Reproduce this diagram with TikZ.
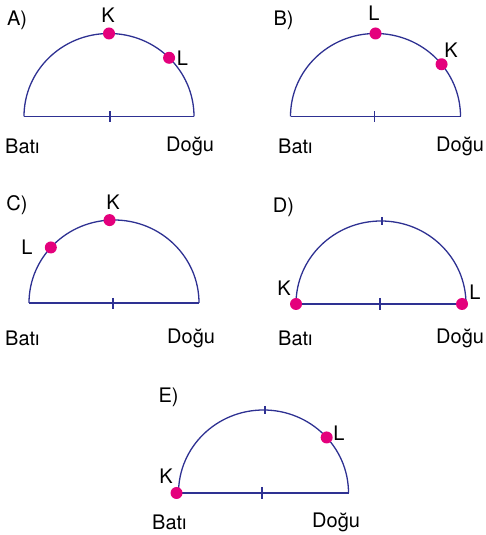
\documentclass[tikz,border=0pt]{standalone}
\usepackage{fontspec}
\setmainfont{TeX Gyre Heros}
\definecolor{arcblue}{HTML}{2E3192}
\definecolor{dotmag}{HTML}{E4007C}
\begin{document}
\begin{tikzpicture}[x=1pt,y=1pt,
  hemi/.style={draw=arcblue,line width=1.3pt},
  dotnode/.style={circle,fill=dotmag,inner sep=0pt,minimum size=12pt},
  lbl/.style={font=\fontsize{20}{22}\selectfont,inner sep=0pt},
  dirl/.style={font=\fontsize{20}{22}\selectfont,inner sep=0pt,anchor=west}]
\useasboundingbox (0,0) rectangle (486,535);
\def\rx{85}\def\ry{83}
% ---------- A ----------
\begin{scope}[shift={(109,418.5)}]
  \coordinate (aW) at (-\rx,0); \coordinate (aE) at (\rx,0);
  \draw[hemi] (aW) arc[start angle=180,end angle=0,x radius=\rx,y radius=\ry];
  \draw[hemi] (aW) -- (aE);
  \draw[hemi] (1,5) -- (1,-6);
  \node[dotnode] (aK) at (90:{\rx} and {\ry}) {};
  \node[dotnode] (aL) at (45:{\rx} and {\ry}) {};
  \node[lbl] at (-1,101) {K};
  \node[lbl] at (73.5,58) {L};
  \node[lbl] at (-92,96.5) {A)};
  \node[dirl] at (-104,-29.5) {Batı};
  \node[dirl] at (57,-29.5) {Doğu};
\end{scope}
% ---------- B ----------
\begin{scope}[shift={(375.5,418.5)}]
  \coordinate (bW) at (-\rx,0); \coordinate (bE) at (\rx,0);
  \draw[hemi] (bW) arc[start angle=180,end angle=0,x radius=\rx,y radius=\ry];
  \draw[hemi] (bW) -- (bE);
  \draw[hemi] (-1,5) -- (-1,-6);
  \node[dotnode] (bL) at (90:{\rx} and {\ry}) {};
  \node[dotnode] (bK) at (39:{\rx} and {\ry}) {};
  \node[lbl] at (-1.5,103.5) {L};
  \node[lbl] at (75.5,66.5) {K};
  \node[lbl] at (-92,96.5) {B)};
  \node[dirl] at (-97.5,-29.5) {Batı};
  \node[dirl] at (60.5,-29.5) {Doğu};
\end{scope}
% ---------- C ----------
\begin{scope}[shift={(114,232)}]
  \coordinate (cW) at (-\rx,0); \coordinate (cE) at (\rx,0);
  \draw[hemi] (cW) arc[start angle=180,end angle=0,x radius=\rx,y radius=\ry];
  \draw[hemi] (cW) -- (cE);
  \draw[hemi] (-1,5) -- (-1,-6);
  \node[dotnode] (cK) at (93:{\rx} and {\ry}) {};
  \node[dotnode] (cL) at (138:{\rx} and {\ry}) {};
  \node[lbl] at (-1,101) {K};
  \node[lbl] at (-87,56) {L};
  \node[lbl] at (-97,98) {C)};
  \node[dirl] at (-109,-35) {Batı};
  \node[dirl] at (53,-35) {Doğu};
\end{scope}
% ---------- D ----------
\begin{scope}[shift={(381,231)}]
  \coordinate (dW) at (-\rx,0); \coordinate (dE) at (\rx,0);
  \draw[hemi] (dW) arc[start angle=180,end angle=0,x radius=\rx,y radius=\ry];
  \draw[hemi] (dW) -- (dE);
  \draw[hemi] (1,\ry+4) -- (1,\ry-4);
  \draw[hemi] (-1,6) -- (-1,-6);
  \node[dotnode] (dK) at (dW) {};
  \node[dotnode] (dL) at ([xshift=-4pt]dE) {};
  \node[lbl] at (-97,16) {K};
  \node[lbl] at (94,12) {L};
  \node[lbl] at (-97.5,97) {D)};
  \node[dirl] at (-103,-34) {Batı};
  \node[dirl] at (55,-34) {Doğu};
\end{scope}
% ---------- E ----------
\begin{scope}[shift={(263.5,42)}]
  \coordinate (eW) at (-\rx,0); \coordinate (eE) at (\rx,0);
  \draw[hemi] (eW) arc[start angle=180,end angle=0,x radius=\rx,y radius=\ry];
  \draw[hemi] (eW) -- (eE);
  \draw[hemi] (1.5,\ry+4) -- (1.5,\ry-4);
  \draw[hemi] (-1.5,6) -- (-1.5,-6);
  \node[dotnode] (eK) at ([xshift=-2pt]eW) {};
  \node[dotnode] (eL) at (42:{\rx} and {\ry}) {};
  \node[lbl] at (-97.5,17) {K};
  \node[lbl] at (75.5,60) {L};
  \node[lbl] at (-95,96) {E)};
  \node[dirl] at (-111.5,-29) {Batı};
  \node[dirl] at (48.5,-29) {Doğu};
\end{scope}
\end{tikzpicture}
\end{document}
